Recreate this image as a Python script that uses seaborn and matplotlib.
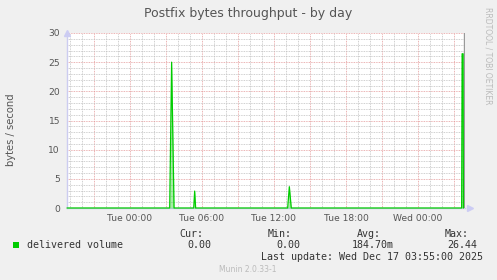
import matplotlib
matplotlib.use("Agg")
import matplotlib.pyplot as plt
import seaborn as sns
import pandas as pd
from matplotlib.ticker import MultipleLocator, FixedLocator

# ---- data (hours relative to Tue 00:00) ----
hours = [-5.25, 3.31, 3.47, 3.67, 5.31, 5.39, 5.47, 13.14, 13.28, 13.44, 27.64, 27.68, 27.76, 27.79]
volume = [0, 0, 25.0, 0, 0, 2.9, 0, 0, 3.65, 0, 0, 26.44, 26.44, 0]
tick_hours = [-3, 0, 3, 6, 9, 12, 15, 18, 21, 24, 27]
tick_labels = ["", "Tue 00:00", "", "Tue 06:00", "", "Tue 12:00", "", "Tue 18:00", "", "Wed 00:00", ""]
y_ticks = [0, 5, 10, 15, 20, 25, 30]
legend_label = "delivered volume"
stat_names = ["Cur:", "Min:", "Avg:", "Max:"]
stat_values = ["0.00", "0.00", "184.70m", "26.44"]
now_hour = 27.86

df = pd.DataFrame({"hours": hours, "volume": volume})

sns.set_style("white")
plt.rcParams["font.family"] = ["DejaVu Sans"]

W, H = 497, 280
fig = plt.figure(figsize=(W / 100, H / 100), dpi=100, facecolor="#f0f0f0")
ax = fig.add_axes([67 / W, 72 / H, 398 / W, 175 / H])
ax.set_facecolor("white")

green = "#00cc00"
ax.fill_between(df["hours"], df["volume"], 0, color=green, alpha=0.35, linewidth=0, zorder=3)
sns.lineplot(data=df, x="hours", y="volume", ax=ax, color=green, linewidth=0.9,
             estimator=None, sort=False, zorder=6)
for ln in ax.lines:
    ln.set_clip_on(False)
ax.axvline(now_hour, color="#999999", linewidth=1.0, zorder=5)

ax.set_xlim(-5.25, 27.92)
ax.set_ylim(0, 30)

ax.xaxis.set_major_locator(FixedLocator(tick_hours))
ax.set_xticklabels(tick_labels)
ax.xaxis.set_minor_locator(MultipleLocator(1))
ax.set_yticks(y_ticks)
ax.set_yticklabels([str(v) for v in y_ticks])
ax.yaxis.set_minor_locator(MultipleLocator(1))

ax.grid(which="minor", color="#c0c0c0", linestyle=(0, (1, 1)), linewidth=0.6, zorder=1)
ax.grid(which="major", color="#e49a9a", linestyle=(0, (1, 1)), linewidth=0.6, zorder=2)
ax.set_axisbelow(True)

ax.tick_params(axis="both", which="both", length=0, labelsize=6.6, colors="#555555")
ax.tick_params(axis="x", pad=4)
ax.tick_params(axis="y", pad=5)

for s in ["top", "right"]:
    ax.spines[s].set_visible(False)
for s in ["left", "bottom"]:
    ax.spines[s].set_color("#ccccf0")
    ax.spines[s].set_linewidth(1.0)
    ax.spines[s].set_zorder(2.5)

# axis arrows
ax.plot([0], [1.0], marker="^", color="#ccccf4", markersize=4, transform=ax.transAxes, clip_on=False)
ax.plot([1.0 + 5 / 398], [0], marker=">", color="#ccccf4", markersize=4, transform=ax.transAxes, clip_on=False)

ax.set_xlabel("")
ax.set_ylabel("")
fig.text(11 / W, 1 - 130 / H, "bytes / second", rotation=90, ha="center", va="center",
         fontsize=7.2, color="#555555")

fig.text(248 / W, 1 - 14 / H, "Postfix bytes throughput - by day", ha="center", va="center",
         fontsize=9, color="#555555")
fig.text(488 / W, 1 - 56 / H, "RRDTOOL / TOBI OETIKER", rotation=270, ha="center", va="center",
         fontsize=5.5, color="#bbbbbb")

mono = "DejaVu Sans Mono"
fig.patches.append(plt.Rectangle((13 / W, 1 - 248 / H), 6 / W, 6 / H, transform=fig.transFigure,
                                 facecolor=green, edgecolor="none"))
fig.text(27 / W, 1 - 245 / H, legend_label, family=mono, fontsize=7.2, color="#333333",
         ha="left", va="center")
name_right = [203, 292, 381, 469]
val_right = [211, 300, 394, 477]
for nm, vl, nr, vr in zip(stat_names, stat_values, name_right, val_right):
    fig.text(nr / W, 1 - 234 / H, nm, family=mono, fontsize=7.2, color="#333333", ha="right", va="center")
    fig.text(vr / W, 1 - 245 / H, vl, family=mono, fontsize=7.2, color="#333333", ha="right", va="center")
fig.text(483 / W, 1 - 257 / H, "Last update: Wed Dec 17 03:55:00 2025", family=mono, fontsize=7.2,
         color="#333333", ha="right", va="center")
fig.text(248 / W, 1 - 269 / H, "Munin 2.0.33-1", fontsize=5.5, color="#bbbbbb", ha="center", va="center")

fig.savefig("out.png", dpi=100, facecolor=fig.get_facecolor())
